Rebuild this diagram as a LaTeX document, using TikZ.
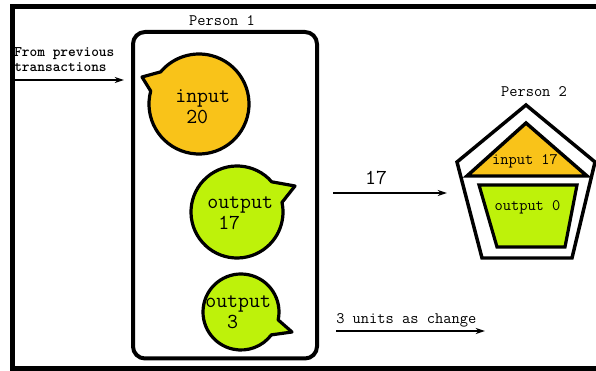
\documentclass[tikz,border=0pt]{standalone}
\usepackage{tikz}
\usetikzlibrary{arrows.meta}
\definecolor{coinorange}{RGB}{249,195,25}
\definecolor{coingreen}{RGB}{190,242,10}

\begin{document}
\begin{tikzpicture}[x=0.75pt,y=0.75pt,
    bubble/.style={line width=2.4pt,line join=round},
    flow/.style={line width=1pt,-{Stealth[length=7pt,width=4.5pt]}},
    label/.style={font=\fontsize{12}{14}\selectfont\ttfamily,inner sep=0pt},
    inbubble/.style={font=\fontsize{16}{15.75}\selectfont\ttfamily,inner sep=0pt,
      align=left,anchor=west}]
    \useasboundingbox (0,0) rectangle (596,371) ;
    \draw [line width=3.75pt] (596,364.5) -- (12,364.5) -- (12,2.5) -- (596,2.5) ;
    \draw [line width=3pt,rounded corners=9pt] (133,12.5) rectangle (317,339) ;
    \node (person1) at (222,350) [label] {Person 1} ;
    \node (prev) at (14,311.5) [anchor=west,inner sep=0pt,align=left,
      font=\fontsize{11}{11.25}\selectfont\ttfamily\bfseries]
      {From previous\\transactions} ;
    \coordinate (prevstart) at (14,291) ;
    \coordinate (prevend) at (124,291) ;
    \draw [flow] (prevstart) -- (prevend) ;
    \draw [bubble,fill=coinorange] (142,294) -- ([shift={(165:50)}]199,267)
      arc [start angle=165,end angle=500,radius=50] -- cycle ;
    \node (input20) at (175,264.5) [inbubble] {input\\\phantom{0}20} ;
    \draw [bubble,fill=coingreen] (295,185) -- ([shift={(41:46)}]237,159)
      arc [start angle=41,end angle=372,radius=46] -- cycle ;
    \node (output17) at (207,158) [inbubble] {output\\\phantom{0}17} ;
    \draw [bubble,fill=coingreen] (292,39) -- ([shift={(-12:38)}]241,59)
      arc [start angle=-12,end angle=323,radius=38] -- cycle ;
    \node (output3) at (205,59) [inbubble] {output\\\phantom{00}3} ;
    \node (amount) at (376,193) [font=\fontsize{16}{16}\selectfont\ttfamily,
      inner sep=0pt] {17} ;
    \coordinate (paystart) at (333,178) ;
    \coordinate (payend) at (447,178) ;
    \draw [flow] (paystart) -- (payend) ;
    \node (change) at (336,51) [label,anchor=west] {3 units as change} ;
    \coordinate (changestart) at (336,40) ;
    \coordinate (changeend) at (485,40) ;
    \draw [flow] (changestart) -- (changeend) ;
    \node (person2) at (534,279) [label] {Person 2} ;
    \draw [line width=2.6pt,line join=miter] (526,266) -- (595,209) -- (572,113)
      -- (482,113) -- (457,209) -- cycle ;
    \draw [line width=2.6pt,fill=coinorange] (526,248) -- (587,195) -- (467,195)
      -- cycle ;
    \draw [line width=2.4pt,fill=coingreen] (479,186) -- (577,186) -- (565,124)
      -- (497,124) -- cycle ;
    \node (input17) at (525,210) [label] {input 17} ;
    \node (output0) at (527.5,164) [label] {output 0} ;
\end{tikzpicture}
\end{document}
